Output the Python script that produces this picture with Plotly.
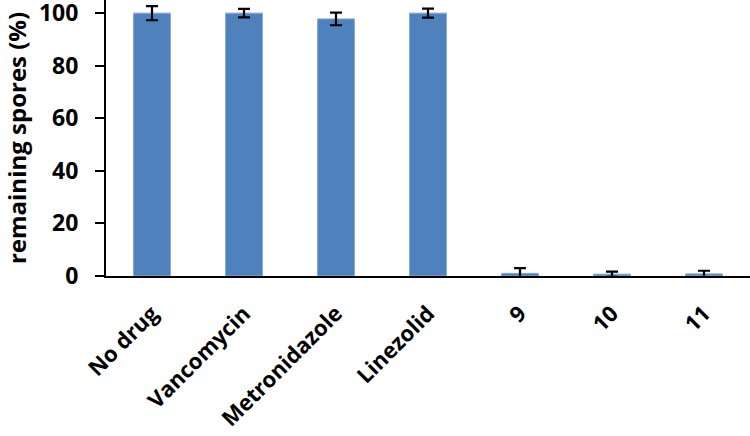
import plotly.graph_objects as go

categories = ["No drug", "Vancomycin", "Metronidazole", "Linezolid", "9", "10", "11"]
values = [100, 100, 97.8, 100, 1.0, 0.7, 0.8]
errors = [2.7, 1.6, 2.4, 1.7, 2.0, 1.0, 1.2]
y_ticks = [0, 20, 40, 60, 80, 100]

fig = go.Figure(go.Bar(
    x=categories, y=values,
    marker=dict(color="#4F81BD", line=dict(color="#7FA4D3", width=1)),
    error_y=dict(type="data", array=errors, visible=True, color="black", thickness=2.2, width=6),
))

font_family = "Open Sans, Lato, Arial, sans-serif"
fig.update_layout(
    width=750, height=436,
    margin=dict(l=106, r=0, t=0, b=160),
    paper_bgcolor="white", plot_bgcolor="white",
    bargap=0.6,
    showlegend=False,
    font=dict(family=font_family, color="black"),
)
fig.update_xaxes(
    showline=True, linecolor="black", linewidth=2,
    tickangle=-45, ticks="outside", ticklen=14, tickcolor="rgba(0,0,0,0)",
    tickfont=dict(size=22, family=font_family, color="black", weight="bold"),
    showgrid=False, automargin=False, ticklabeloverflow="allow",
)
fig.update_yaxes(
    range=[0, 105], tickvals=y_ticks,
    showline=True, linecolor="black", linewidth=2,
    ticks="outside", ticklen=9, tickwidth=2, tickcolor="black",
    ticklabelstandoff=12, ticklabeloverflow="allow",
    tickfont=dict(size=23, family=font_family, color="black", weight="bold"),
    showgrid=False, zeroline=False, automargin=False,
    title=dict(text="remaining spores (%)", font=dict(size=24, family=font_family, color="black", weight="bold"), standoff=18),
)
fig.write_html("out.html", config={"displayModeBar": False},
               post_script="document.body.style.margin='0';document.body.style.overflow='hidden';")
